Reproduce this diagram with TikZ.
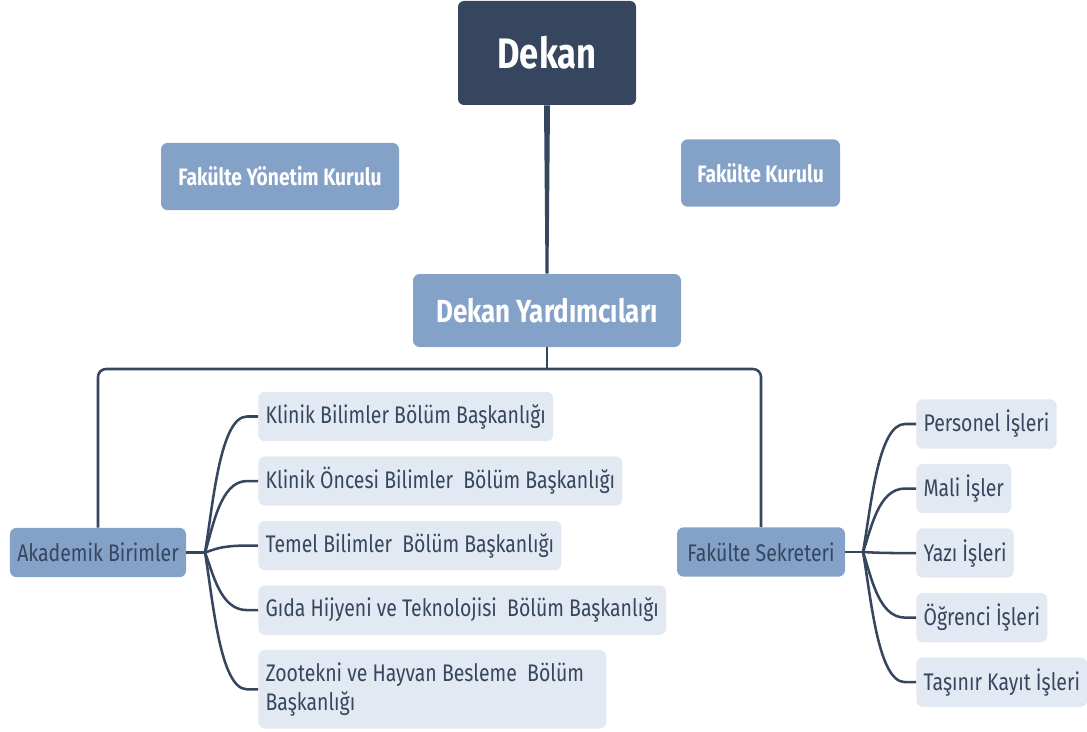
\documentclass[tikz,border=0pt]{standalone}
\usepackage{fontspec}
\setmainfont[FakeStretch=0.81]{Fira Sans}
\usetikzlibrary{positioning,calc}
\definecolor{deepblue}{HTML}{35465E}
\definecolor{midblue}{HTML}{84A1C8}
\definecolor{paleblue}{HTML}{E3E9F2}

\begin{document}
\begin{tikzpicture}[x=0.75pt,y=-0.75pt,
topnode/.style={rectangle, rounded corners=4.5pt, fill=deepblue, text=white, font=\fontsize{32}{38}\selectfont\bfseries, minimum width=133.5pt, minimum height=78pt},
boardnode/.style={rectangle, rounded corners=5pt, fill=midblue, text=white, font=\fontsize{17.8}{21}\selectfont\bfseries, minimum height=50.5pt},
unitnode/.style={rectangle, rounded corners=5pt, fill=midblue, text=deepblue, font=\fontsize{18}{22}\selectfont, minimum height=37pt, inner xsep=5.5pt},
subnode/.style={rectangle, rounded corners=5pt, fill=paleblue, text=deepblue, font=\fontsize{18}{22}\selectfont, minimum height=37pt, inner xsep=5.5pt, align=left},
link/.style={draw=deepblue, line width=1.9pt},
fan/.style={to path={let \p1=(\tikztostart), \p2=(\tikztotarget) in .. controls ({\x1+6pt},{\y1+0.35*(\y2-\y1)}) and ({\x1+11.25pt},\y2) .. ({\x1+31.5pt},\y2) -- (\tikztotarget)}},
]
\useasboundingbox (0,0) rectangle (1087,731);

%Nodes
\node[topnode]   (dekan) at (547,53)   {Dekan};
\node[boardnode, minimum width=178.5pt] (fyk) at (280,176.5) {Fakülte Yönetim Kurulu};
\node[boardnode, minimum width=119.25pt] (fk) at (760.5,173) {Fakülte Kurulu};
\node[boardnode, font=\fontsize{24}{28}\selectfont\bfseries, minimum width=201pt, minimum height=54.75pt] (yard) at (547,310.5) {Dekan Yardımcıları};

\node[unitnode, minimum width=132pt] (akad) at (98,552.5) {Akademik Birimler};
\node[unitnode, minimum width=126pt] (fsek) at (761,552)  {Fakülte Sekreteri};

\coordinate (bar) at (547,369);
\coordinate (ab)  at (205,552.5);
\coordinate (fb)  at (863,552);

%Nodes
\node[subnode, anchor=west] (k1) at (258,416.5) {Klinik Bilimler Bölüm Başkanlığı};
\node[subnode] (k2) [below right=11pt and 0pt of k1.south west] {Klinik Öncesi Bilimler~ Bölüm Başkanlığı};
\node[subnode] (k3) [below right=11pt and 0pt of k2.south west] {Temel Bilimler~ Bölüm Başkanlığı};
\node[subnode] (k4) [below right=11pt and 0pt of k3.south west] {Gıda Hijyeni ve Teknolojisi~ Bölüm Başkanlığı};
\node[subnode, minimum height=59pt, text width=250pt, align=justify] (k5) [below right=11pt and 0pt of k4.south west] {Zootekni ve Hayvan Besleme~ Bölüm\hfill\break Başkanlığı};

\node[subnode, anchor=west] (s1) at (916,424) {Personel İşleri};
\node[subnode] (s2) [below right=11pt and 0pt of s1.south west] {Mali İşler};
\node[subnode] (s3) [below right=11pt and 0pt of s2.south west] {Yazı İşleri};
\node[subnode] (s4) [below right=11pt and 0pt of s3.south west] {Öğrenci İşleri};
\node[subnode] (s5) [below right=11pt and 0pt of s4.south west] {Taşınır Kayıt İşleri};

%Lines
\fill[deepblue] ($(dekan.south)+(-3,0)$) -- ($(dekan.south)+(3,0)$)
  -- ($(yard.north)+(1.5,0)$) -- ($(yard.north)+(-1.5,0)$) -- cycle;
\draw[link] (yard.south) -- (bar);
\draw[link, rounded corners=6pt] (akad.north) -- (akad.north |- bar) -- (fsek.north |- bar) -- (fsek.north);

\draw[link] (akad.east) -- (ab);
\draw[link] (ab) to[fan] (k1);
\draw[link] (ab) to[fan] (k2);
\draw[link] (ab) to[fan] (k3);
\draw[link] (ab) to[fan] (k4);
\draw[link] (ab) to[fan] (k5);

\draw[link] (fsek.east) -- (fb);
\draw[link] (fb) to[fan] (s1);
\draw[link] (fb) to[fan] (s2);
\draw[link] (fb) to[fan] (s3);
\draw[link] (fb) to[fan] (s4);
\draw[link] (fb) to[fan] (s5);

\end{tikzpicture}
\end{document}
